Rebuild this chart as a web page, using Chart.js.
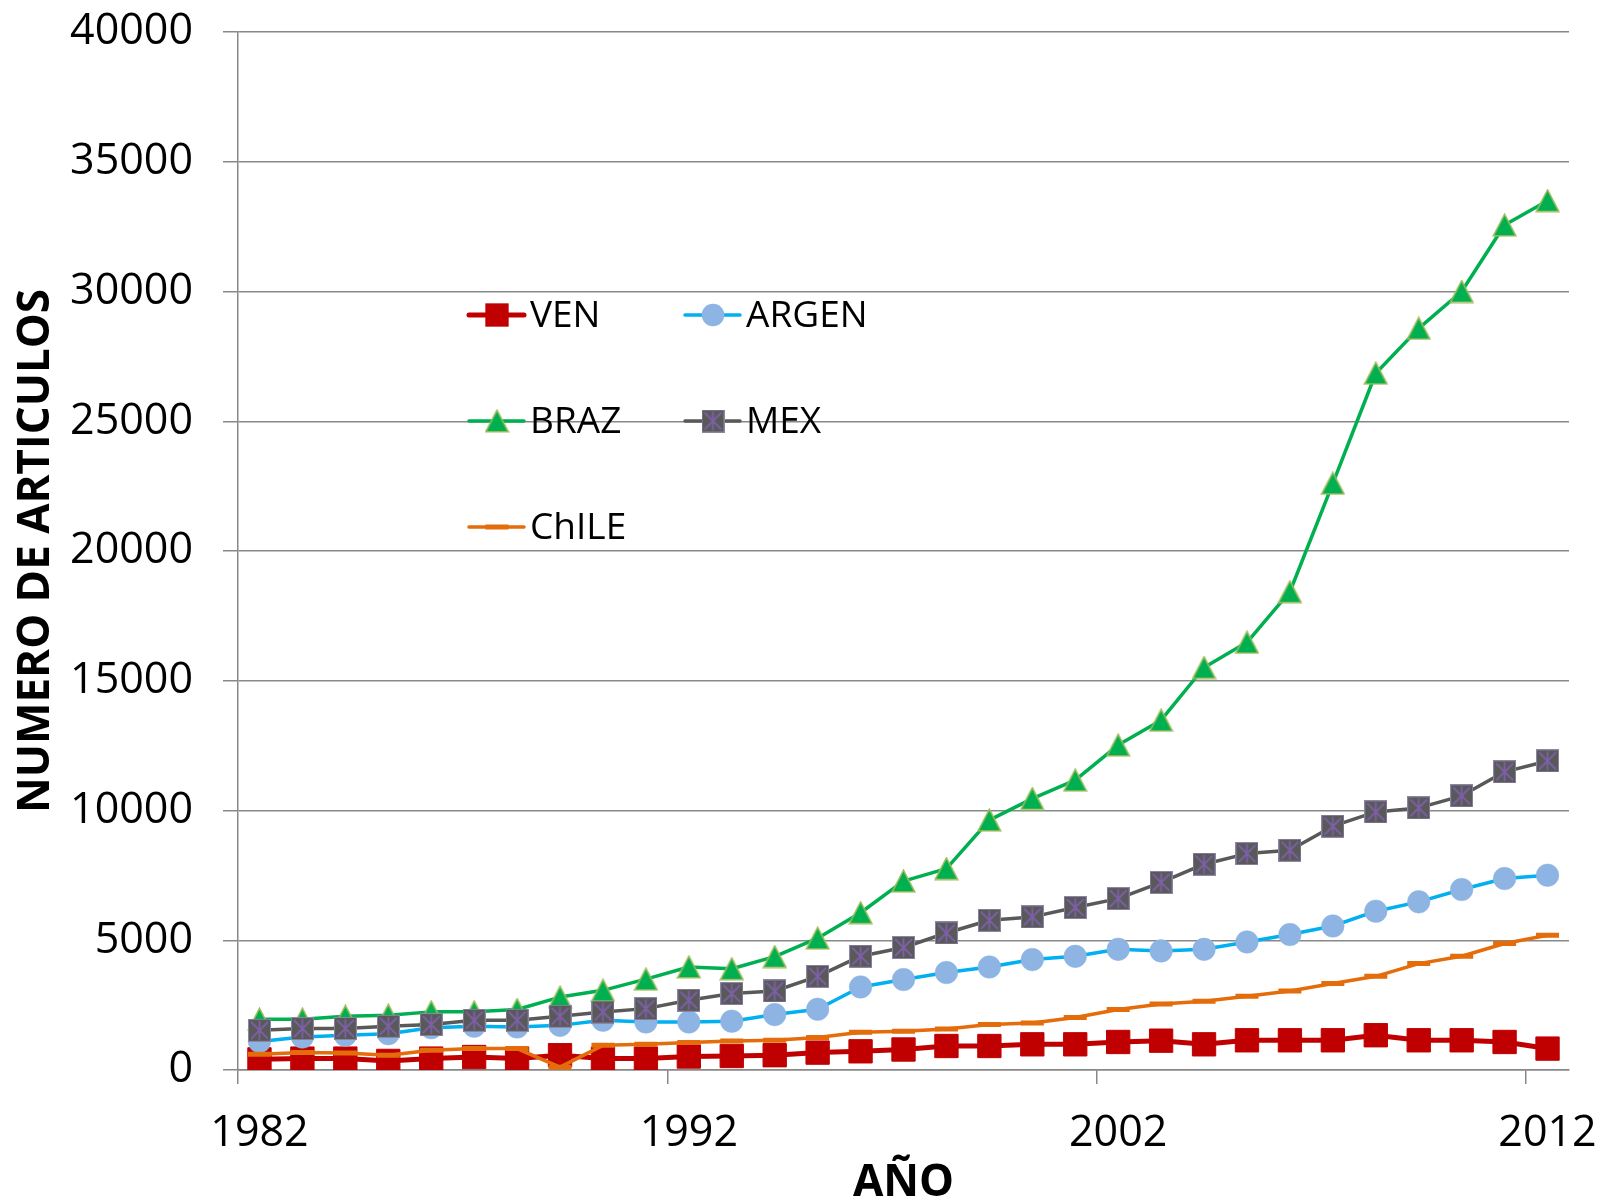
<!DOCTYPE html>
<html>
<head>
<meta charset="utf-8">
<script src="https://cdn.jsdelivr.net/npm/chart.js@4.4.1/dist/chart.umd.min.js"></script>
<style>
  html, body { margin: 0; padding: 0; background: #fff; }
  canvas { display: block; }
</style>
</head>
<body>
<canvas id="chart" width="1602" height="1203"></canvas>
<script>
const years = ['1982', '1983', '1984', '1985', '1986', '1987', '1988', '1989', '1990', '1991',
  '1992', '1993', '1994', '1995', '1996', '1997', '1998', '1999', '2000', '2001',
  '2002', '2003', '2004', '2005', '2006', '2007', '2008', '2009', '2010', '2011', '2012'];

const ven = [410, 440, 440, 350, 440, 500, 440, 570, 440, 440,
  520, 540, 570, 670, 720, 790, 925, 925, 990, 990,
  1080, 1130, 990, 1145, 1145, 1145, 1340, 1145, 1145, 1080, 825];

const argen = [1100, 1270, 1340, 1400, 1630, 1690, 1660, 1720, 1920, 1850,
  1850, 1880, 2135, 2340, 3200, 3485, 3755, 3970, 4255, 4380,
  4650, 4590, 4650, 4935, 5220, 5550, 6120, 6480, 6955, 7380, 7505];

const braz = [1960, 1960, 2070, 2110, 2240, 2240, 2330, 2810, 3070, 3500,
  3970, 3900, 4370, 5080, 6060, 7280, 7760, 9630, 10460, 11170,
  12520, 13480, 15510, 16480, 18430, 22610, 26850, 28580, 30000, 32560, 33500];

const mex = [1530, 1595, 1600, 1685, 1750, 1915, 1915, 2070, 2235, 2365,
  2690, 2945, 3045, 3610, 4385, 4720, 5280, 5770, 5900, 6260,
  6605, 7230, 7930, 8340, 8470, 9395, 9945, 10100, 10565, 11490, 11910];

const chile = [605, 670, 655, 565, 760, 825, 825, 110, 950, 990,
  1060, 1120, 1145, 1250, 1455, 1490, 1580, 1750, 1810, 2020,
  2330, 2545, 2650, 2840, 3045, 3330, 3610, 4100, 4385, 4875, 5195];

const xTitle = 'AÑO';
const yTitle = 'NUMERO DE ARTICULOS';

Chart.defaults.font.family = "'Open Sans', sans-serif";

// triangle like Excel's: fits a 23x22 box
function triangleMarker() {
  const c = document.createElement('canvas');
  c.width = 25; c.height = 24;
  const g = c.getContext('2d');
  g.beginPath();
  g.moveTo(12.5, 1.2);
  g.lineTo(23.8, 22.8);
  g.lineTo(1.2, 22.8);
  g.closePath();
  g.fillStyle = '#00B050';
  g.fill();
  g.lineWidth = 1.5;
  g.strokeStyle = '#9BBB59';
  g.stroke();
  return c;
}

// dark square with purple asterisk
function mexMarker() {
  const c = document.createElement('canvas');
  c.width = 23; c.height = 23;
  const g = c.getContext('2d');
  g.fillStyle = '#595959';
  g.fillRect(0, 0, 23, 23);
  g.strokeStyle = '#8C86A6';
  g.lineWidth = 1;
  g.strokeRect(0.5, 0.5, 22, 22);
  g.strokeStyle = '#7D60A8';
  g.lineWidth = 1.8;
  g.beginPath();
  g.moveTo(3, 3); g.lineTo(20, 20);
  g.moveTo(20, 3); g.lineTo(3, 20);
  g.moveTo(11.5, 2); g.lineTo(11.5, 21);
  g.stroke();
  return c;
}

const triImg = triangleMarker();
const mexImg = mexMarker();

function drawMarker(ctx, ds, x, y) {
  const st = ds.pointStyle;
  if (st instanceof HTMLCanvasElement) {
    ctx.drawImage(st, x - st.width / 2, y - st.height / 2);
  } else if (st === 'rect') {
    const s = ds.pointRadius * Math.SQRT2;
    ctx.fillStyle = ds.pointBackgroundColor;
    ctx.fillRect(x - s / 2, y - s / 2, s, s);
  } else if (st === 'circle') {
    ctx.fillStyle = ds.pointBackgroundColor;
    ctx.beginPath();
    ctx.arc(x, y, ds.pointRadius, 0, Math.PI * 2);
    ctx.fill();
  } else if (st === 'line') {
    ctx.strokeStyle = ds.pointBorderColor;
    ctx.lineWidth = ds.pointBorderWidth;
    ctx.lineCap = 'butt';
    ctx.beginPath();
    ctx.moveTo(x - ds.pointRadius, y);
    ctx.lineTo(x + ds.pointRadius, y);
    ctx.stroke();
  }
}

// legend sits inside the plot, two columns; x title drawn here too
const insideLegend = {
  id: 'insideLegend',
  afterDraw(chart) {
    const ctx = chart.ctx;
    const cols = [469, 685];
    const rows = [315, 421, 527];
    chart.data.datasets.forEach((ds, i) => {
      const x0 = cols[i % 2];
      const y = rows[Math.floor(i / 2)];
      ctx.save();
      ctx.strokeStyle = ds.borderColor;
      ctx.lineWidth = ds.borderWidth;
      ctx.lineCap = 'round';
      ctx.beginPath();
      ctx.moveTo(x0, y);
      ctx.lineTo(x0 + 55, y);
      ctx.stroke();
      drawMarker(ctx, ds, x0 + 28, y);
      ctx.fillStyle = '#000';
      ctx.font = "37px 'Open Sans'";
      ctx.textBaseline = 'middle';
      ctx.textAlign = 'left';
      ctx.fillText(ds.label, x0 + 61, y + 1);
      ctx.restore();
    });

    const area = chart.chartArea;
    ctx.save();
    ctx.fillStyle = '#000';
    ctx.font = "bold 44px 'Open Sans'";
    ctx.textAlign = 'center';
    ctx.textBaseline = 'middle';
    ctx.fillText(xTitle, (area.left + area.right) / 2, 1183);
    ctx.restore();
  }
};

new Chart(document.getElementById('chart'), {
  type: 'line',
  data: {
    labels: years,
    datasets: [
      {
        label: 'VEN',
        data: ven,
        order: 4,
        borderColor: '#C00000',
        borderWidth: 5,
        pointStyle: 'rect',
        pointRadius: 16.5,
        pointBackgroundColor: '#C00000',
        pointBorderColor: '#C00000',
        pointBorderWidth: 1,
      },
      {
        label: 'ARGEN',
        data: argen,
        order: 3,
        borderColor: '#00B0F0',
        borderWidth: 3.5,
        pointStyle: 'circle',
        pointRadius: 11.3,
        pointBackgroundColor: '#8EB4E3',
        pointBorderColor: '#8EB4E3',
        pointBorderWidth: 0.5,
      },
      {
        label: 'BRAZ',
        data: braz,
        order: 2,
        borderColor: '#00B050',
        borderWidth: 3.5,
        pointStyle: triImg,
        pointRadius: 12,
      },
      {
        label: 'MEX',
        data: mex,
        order: 1,
        borderColor: '#595959',
        borderWidth: 3.5,
        pointStyle: mexImg,
        pointRadius: 12,
      },
      {
        label: 'ChILE',
        data: chile,
        order: 0,
        borderColor: '#E46C0A',
        borderWidth: 3.5,
        pointStyle: 'line',
        pointRadius: 11.5,
        pointBorderColor: '#E46C0A',
        pointBorderWidth: 5,
      },
    ],
  },
  options: {
    responsive: false,
    devicePixelRatio: 1,
    animation: false,
    events: [],
    elements: {
      line: { tension: 0, borderJoinStyle: 'round' },
    },
    layout: {
      padding: { top: 32, right: 33, bottom: 0, left: 0 },
    },
    scales: {
      x: {
        offset: true,
        grid: {
          display: true,
          offset: true,
          drawOnChartArea: false,
          drawTicks: true,
          tickLength: 14,
          lineWidth: 1.5,
          color: (c) => (c.index % 10 === 0 ? '#888888' : 'rgba(0,0,0,0)'),
        },
        border: { display: true, color: '#888888', width: 1.5 },
        ticks: {
          autoSkip: false,
          maxRotation: 0,
          minRotation: 0,
          padding: 24,
          color: '#000',
          font: { size: 43 },
          callback: (v, i) => (i % 10 === 0 ? years[i] : ''),
        },
        afterFit: (s) => {
          s.height = 133;
          s.paddingLeft = 0;
          s.paddingRight = 0;
        },
      },
      y: {
        min: 0,
        max: 40000,
        grid: {
          color: '#888888',
          lineWidth: 1.5,
          drawTicks: true,
          tickLength: 15,
        },
        border: { display: true, color: '#888888', width: 1.5 },
        ticks: {
          stepSize: 5000,
          padding: 30,
          color: '#000',
          font: { size: 43 },
          callback: (v) => String(v),
        },
        title: {
          display: true,
          text: yTitle,
          color: '#000',
          font: { size: 44, weight: 'bold', lineHeight: 1 },
          padding: { top: 14, bottom: 0 },
        },
        afterFit: (s) => {
          s.width = 238;
          s.paddingTop = 0;
          s.paddingBottom = 0;
        },
      },
    },
    plugins: {
      legend: { display: false },
      tooltip: { enabled: false },
    },
  },
  plugins: [insideLegend],
});
</script>
</body>
</html>
